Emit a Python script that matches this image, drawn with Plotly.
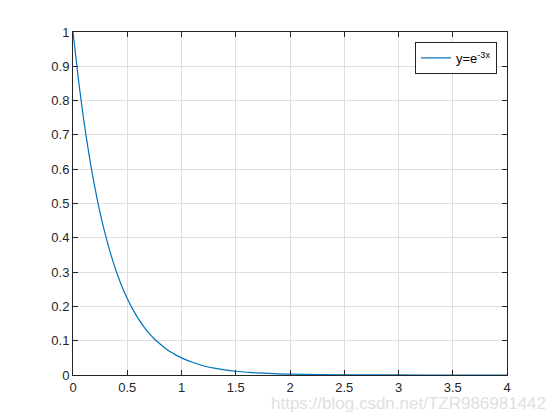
import plotly.graph_objects as go

# values
x_vals = [0, 0.05, 0.1, 0.15, 0.2, 0.25, 0.3, 0.35, 0.4, 0.45, 0.5, 0.55, 0.6, 0.65, 0.7,
          0.75, 0.8, 0.85, 0.9, 0.95, 1.0, 1.1, 1.2, 1.3, 1.4, 1.5, 1.6, 1.7, 1.8, 1.9,
          2.0, 2.5, 3.0, 3.5, 4.0]
y_vals = [1.0, 0.861, 0.741, 0.638, 0.549, 0.472, 0.407, 0.350, 0.301, 0.259, 0.223,
          0.192, 0.165, 0.142, 0.122, 0.105, 0.091, 0.078, 0.067, 0.058, 0.050, 0.037,
          0.027, 0.020, 0.015, 0.011, 0.008, 0.006, 0.0045, 0.0033, 0.0025, 0.0006,
          0.0001, 0.00003, 0.000006]
series_name = "y=e<sup>-3x</sup>"
x_ticks = [0, 0.5, 1, 1.5, 2, 2.5, 3, 3.5, 4]
x_tick_labels = ["0", "0.5", "1", "1.5", "2", "2.5", "3", "3.5", "4"]
y_ticks = [0, 0.1, 0.2, 0.3, 0.4, 0.5, 0.6, 0.7, 0.8, 0.9, 1]
y_tick_labels = ["0", "0.1", "0.2", "0.3", "0.4", "0.5", "0.6", "0.7", "0.8", "0.9", "1"]
watermark = "https://blog.csdn.net/TZR986981442"

fig = go.Figure()
fig.add_trace(go.Scatter(x=x_vals, y=y_vals, mode="lines", name=series_name,
                         line=dict(color="#0072BD", width=1.2, shape="spline", smoothing=0.6)))

axis_common = dict(
    showgrid=True, gridcolor="#dedede", gridwidth=1,
    showline=True, linecolor="#262626", linewidth=1, mirror="ticks",
    ticks="inside", ticklen=5, tickcolor="#262626",
    zeroline=False, automargin=False,
    tickfont=dict(family="Liberation Sans, Arial, sans-serif", size=13, color="#262626"),
)
fig.update_xaxes(range=[0, 4], tickvals=x_ticks, ticktext=x_tick_labels, **axis_common)
fig.update_yaxes(range=[0, 1], tickvals=y_ticks, ticktext=y_tick_labels, **axis_common)

fig.update_layout(
    width=560, height=420,
    margin=dict(l=65, r=61, t=24, b=53),
    paper_bgcolor="white", plot_bgcolor="white",
    showlegend=True,
    legend=dict(x=0.977, y=0.971, xanchor="right", yanchor="top",
                bgcolor="white", bordercolor="#262626", borderwidth=1,
                font=dict(family="Liberation Sans, Arial, sans-serif", size=13, color="#000000"),
                tracegroupgap=0, itemwidth=30),
    annotations=[dict(text=watermark, xref="paper", yref="paper", x=1.094, y=-0.083,
                      xanchor="right", yanchor="middle", showarrow=False,
                      font=dict(family="Liberation Sans, Arial, sans-serif", size=17, color="#e0e0e0"))],
)

fig.write_html("out.html")
